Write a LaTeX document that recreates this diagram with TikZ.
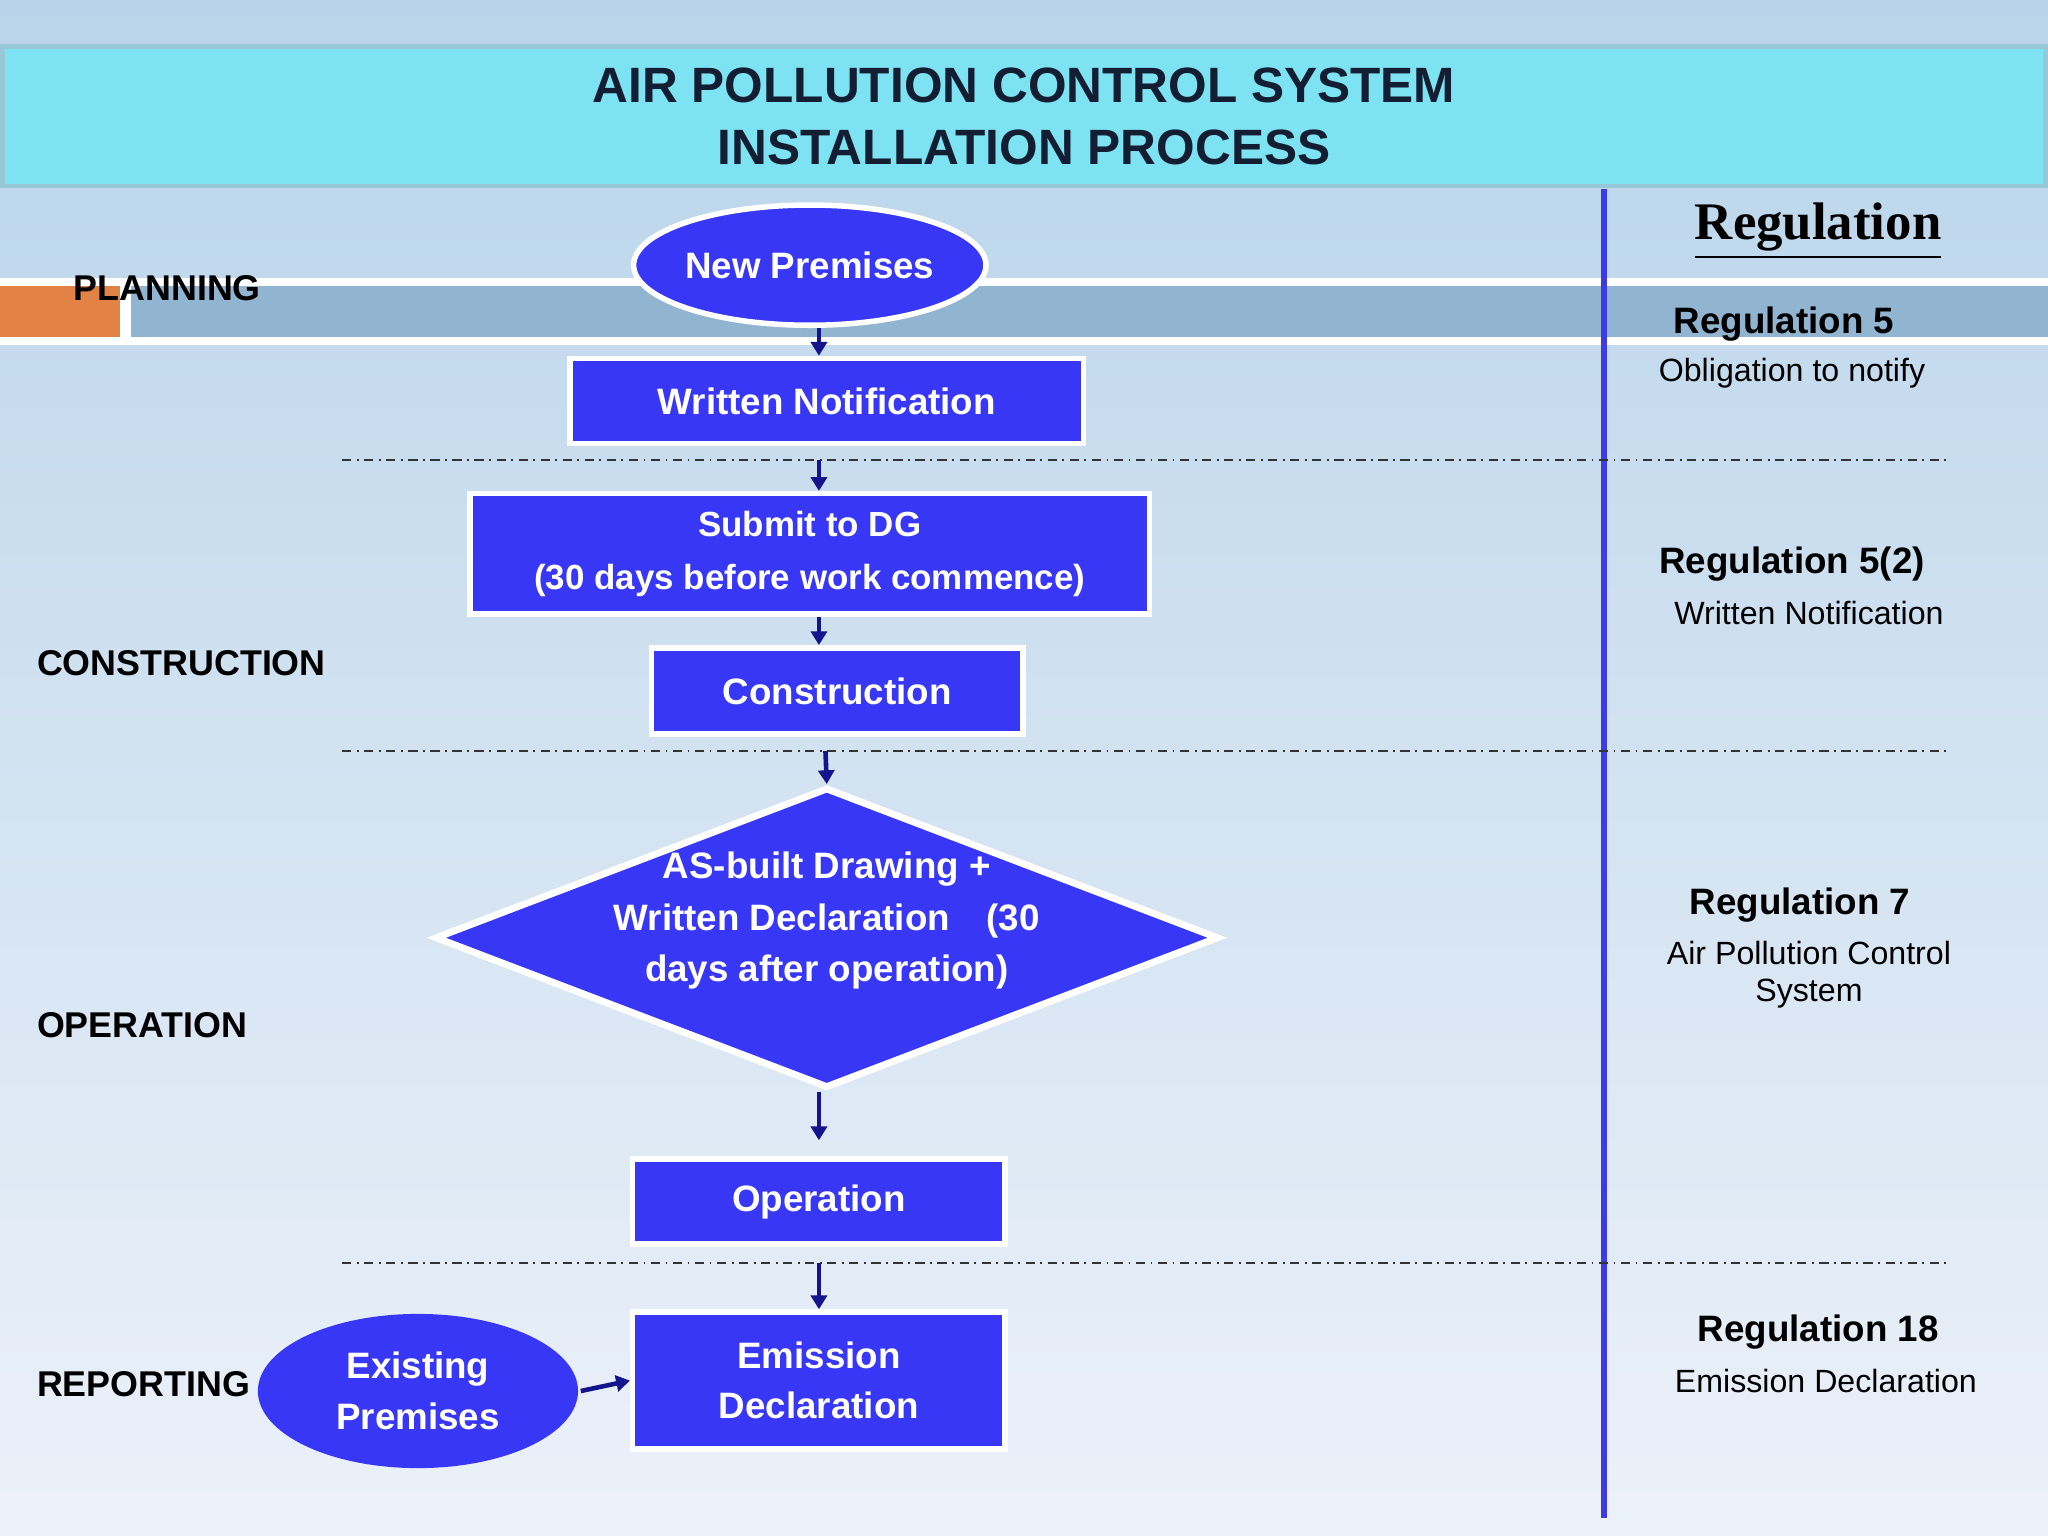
\documentclass[tikz,border=0pt]{standalone}
\usepackage{fontspec}
\setmainfont{Liberation Sans}
\newfontfamily\regserif{Liberation Serif}
\usetikzlibrary{shapes.geometric,arrows.meta}
\definecolor{nb}{RGB}{55,55,245}
\definecolor{arr}{RGB}{20,20,140}
\definecolor{vl}{RGB}{60,60,230}
\definecolor{bgtop}{RGB}{185,212,234}
\definecolor{bgbot}{RGB}{236,241,249}
\definecolor{titb}{RGB}{150,200,215}
\definecolor{titf}{RGB}{125,226,242}
\definecolor{titt}{RGB}{20,30,50}
\definecolor{band}{RGB}{145,180,208}
\definecolor{orng}{RGB}{226,130,68}
\begin{document}
\begin{tikzpicture}[x=0.01cm,y=-0.01cm,
  box/.style={draw=white,line width=1.2pt,fill=nb,text=white,font=\fontsize{8}{10}\selectfont\bfseries,align=center,inner sep=0pt},
  ar/.style={-{Triangle[length=3pt,width=3.5pt]},draw=arr,line width=1pt},
  dd/.style={dash pattern=on 2pt off 1.2pt on 0.4pt off 1.2pt,line width=0.4pt,draw=black!80},
  lab/.style={font=\fontsize{7.8}{9}\selectfont\bfseries,anchor=west},
  rb/.style={font=\fontsize{8}{10}\selectfont\bfseries},
  rn/.style={font=\fontsize{7}{9}\selectfont,align=center}]
\useasboundingbox (0,0) rectangle (1568,1176);
\shade[top color=bgtop,bottom color=bgbot] (0,0) rectangle (1568,1176);
% title
\node[draw=titb,line width=1pt,fill=titf,minimum width=15.63cm,minimum height=1.07cm,inner sep=0pt,font=\fontsize{10.8}{13.5}\selectfont\bfseries,text=titt,align=center] (title) at (784,89) {AIR POLLUTION CONTROL SYSTEM\\INSTALLATION PROCESS};
% band
\fill[white] (0,213) rectangle (1568,264);
\fill[band] (100,219) rectangle (1568,258);
\fill[orng] (0,219) rectangle (92,258);
\node[lab] (pl) at (44,221) {PLANNING};
\node[lab] (co) at (16,508) {CONSTRUCTION};
\node[lab] (op) at (16,785) {OPERATION};
\node[lab] (re) at (16,1060) {REPORTING};
% vertical line
\draw[vl,line width=1.3pt] (1228,145) -- (1228,1162);
% dashed
\foreach \y in {352,575,967} \draw[dd] (262,\y) -- (1490,\y);
% right
\node[font=\fontsize{11.5}{13}\selectfont\bfseries\regserif] (reg) at (1392,177) {\underline{Regulation}};
\node[rb] (r5) at (1366,248) {Regulation 5};
\node[rn] (r5t) at (1372,286) {Obligation to notify};
\node[rb] (r52) at (1372,432) {Regulation 5(2)};
\node[rn] (r52t) at (1385,469) {Written Notification};
\node[rb] (r7) at (1378,693) {Regulation 7};
\node[rn] (r7t) at (1385,746) {Air Pollution Control\\[-1pt]System};
\node[rb] (r18) at (1392,1020) {Regulation 18};
\node[rn] (r18t) at (1398,1057) {Emission Declaration};
% nodes
\node[box,ellipse,minimum width=2.5cm,minimum height=0.92cm] (np) at (620,203) {New Premises};
\node[box,minimum width=3.93cm,minimum height=0.65cm] (wn) at (633,307) {Written Notification};
\node[box,minimum width=5.2cm,minimum height=0.92cm,font=\fontsize{7.6}{11.5}\selectfont\bfseries] (sd) at (620,424) {Submit to DG\\(30 days before work commence)};
\node[box,minimum width=2.84cm,minimum height=0.66cm] (cn) at (641,529) {Construction};
\node[box,diamond,aspect=2.6,minimum width=6cm,minimum height=2.3cm,line width=1.5pt] (dm) at (633,718) {};
\node[box,draw=none,fill=none,font=\fontsize{8}{11.2}\selectfont\bfseries] (dmt) at (633,705) {AS-built Drawing +\\Written Declaration\quad(30\\days after operation)};
\node[box,minimum width=2.85cm,minimum height=0.65cm] (opn) at (627,920) {Operation};
\node[box,minimum width=2.85cm,minimum height=1.05cm,font=\fontsize{8}{11}\selectfont\bfseries] (em) at (627,1057) {Emission\\Declaration};
\node[box,ellipse,draw=none,minimum width=2.45cm,minimum height=1.18cm,font=\fontsize{8}{11}\selectfont\bfseries] (ex) at (320,1065) {Existing\\Premises};
% arrows
\coordinate (a1) at (627,352);
\coordinate (a2) at (632,575);
\coordinate (a3) at (627,873);
\coordinate (a4) at (627,967);
\draw[ar] (np.south -| 627,0) -- (wn.north -| 627,0);
\draw[ar] (a1) -- (sd.north -| 627,0);
\draw[ar] (sd.south -| 627,0) -- (cn.north -| 627,0);
\draw[ar] (a2) -- (dm.north);
\draw[ar] (dm.south -| 627,0) -- (a3);
\draw[ar] (a4) -- (em.north -| 627,0);
\draw[ar] (ex.east) -- (em.west);
\end{tikzpicture}
\end{document}
